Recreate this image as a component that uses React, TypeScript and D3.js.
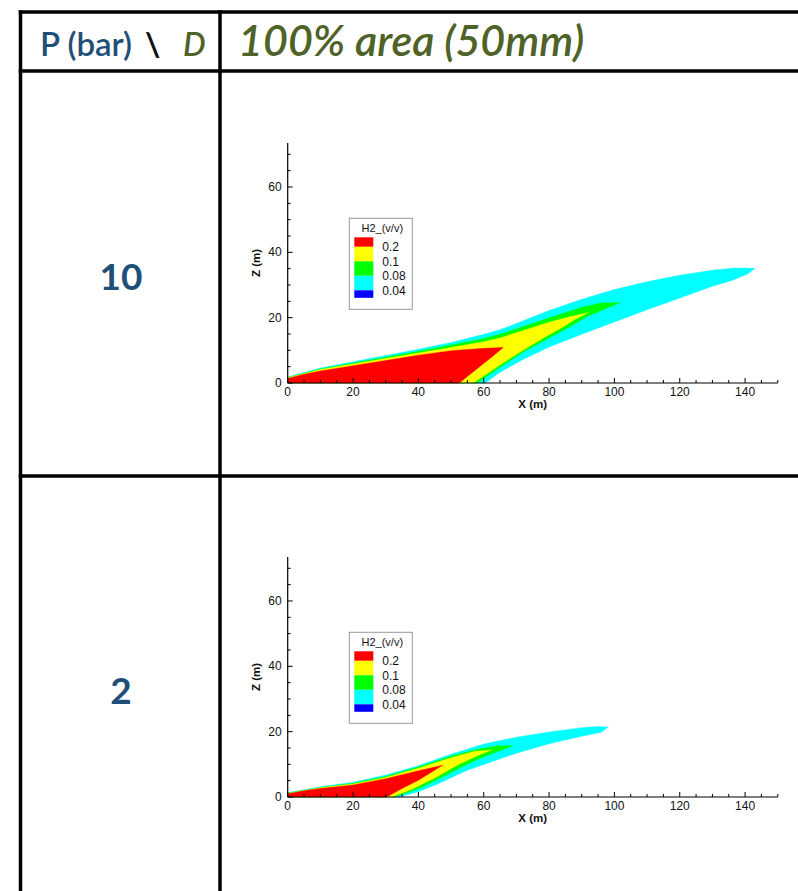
import React from 'react';
import * as d3 from 'd3';

type Pt = [number, number];

// Table text
const headerPressure = 'P (bar)';
const headerSlash = '\\';
const headerDiameter = 'D';
const columnTitle = '100% area (50mm)';
const rowLabels = ['10', '2'];

// Axis setup
const xDomain: [number, number] = [0, 150];
const zDomain: [number, number] = [0, 73.5];
const xMajorTicks = [0, 20, 40, 60, 80, 100, 120, 140];
const zMajorTicks = [0, 20, 40, 60];
const xTitle = 'X (m)';
const zTitle = 'Z (m)';

// Legend
const legendTitle = 'H2_(v/v)';
const legendLevels = ['0.2', '0.1', '0.08', '0.04'];
const legendColors = ['#ff0000', '#ffff00', '#00ff00', '#00ffff', '#0000ff'];

// Contour colours, outermost band first
const bandColors = ['#00ffff', '#00ff00', '#ffff00', '#ff0000'];

// P = 10 bar plume contours (x, z in metres)
const p10Cyan: Pt[] = [
  [0, 0], [0, 1.8], [10, 4.6], [20, 6.5], [30, 8.4], [40, 10.3], [50, 12.4], [60, 14.9],
  [65, 16.3], [70, 18.2], [80, 22.2], [90, 25.6], [100, 28.6], [110, 31], [120, 33],
  [130, 34.5], [137, 35.2], [143, 35.1], [141, 33.5], [136, 31.4], [130, 29.6], [120, 26],
  [110, 22.4], [100, 18.7], [90, 14.9], [80, 11], [72, 7.2], [65, 3.3], [60.5, 0],
];
const p10Green: Pt[] = [
  [0, 0], [0, 1.7], [10, 4.3], [20, 6.1], [30, 7.9], [40, 9.7], [50, 11.6], [60, 13.6],
  [65, 14.9], [70, 16.6], [80, 19.9], [90, 23.2], [96, 24.5], [101.7, 24.6], [98, 23],
  [92, 20.5], [86, 17], [80, 13.8], [72, 9.4], [65, 4.8], [58, 0],
];
const p10Yellow: Pt[] = [
  [0, 0], [0, 1.6], [10, 4.1], [20, 5.8], [30, 7.5], [40, 9.2], [50, 10.9], [60, 12.6],
  [65, 13.8], [70, 15.4], [80, 18.6], [86, 20.2], [92, 21.5], [88, 19.5], [84, 17],
  [80, 14.8], [72, 10], [66, 6.2], [62, 3.5], [56.8, 0],
];
const p10Red: Pt[] = [
  [0, 0], [0, 1.4], [5, 2.7], [10, 3.7], [20, 5.3], [30, 6.9], [40, 8.5], [50, 9.9],
  [60, 10.6], [66, 10.9], [62, 7.6], [57.5, 4], [52.5, 0],
];

// P = 2 bar plume contours (x, z in metres)
const p2Cyan: Pt[] = [
  [0, 0], [0, 1.3], [10, 3.1], [20, 4.5], [30, 6.7], [40, 9.6], [50, 13.1], [60, 16.2],
  [70, 18.3], [80, 19.9], [90, 21.2], [95, 21.6], [98.1, 21.4], [96, 19.8], [90, 18.6],
  [80, 16.3], [70, 13.4], [65, 11.7], [55, 8.2], [45, 3.6], [40, 1.6], [34, 0],
];
const p2Green: Pt[] = [
  [0, 0], [0, 1.2], [10, 2.9], [20, 4.2], [30, 6.3], [40, 9.2], [50, 12.5], [58, 14.6],
  [64, 15.6], [69, 15.7], [65, 14.2], [60, 12.3], [54, 9.6], [46, 5.4], [40, 2.5], [32.6, 0],
];
const p2Yellow: Pt[] = [
  [0, 0], [0, 1.1], [10, 2.8], [20, 4], [30, 6], [40, 8.8], [50, 12], [57, 13.9],
  [62.4, 14.4], [58, 12.6], [52, 9.8], [45, 5.8], [38, 2.4], [31.8, 0],
];
const p2Red: Pt[] = [
  [0, 0], [0, 1], [5, 1.9], [10, 2.6], [20, 3.7], [30, 5.6], [40, 8], [47.4, 9.7],
  [44, 7.6], [40, 5.1], [35, 2.6], [30.3, 0],
];

const panels = [
  { label: rowLabels[0], zeroY: 383, bands: [p10Cyan, p10Green, p10Yellow, p10Red] },
  { label: rowLabels[1], zeroY: 797, bands: [p2Cyan, p2Green, p2Yellow, p2Red] },
];

const PX_PER_M = 3.267;
const X0 = 287.7;
const plotFont = 'Liberation Sans, Arial, Helvetica, sans-serif';
const tableFont = 'Lato, "Open Sans", sans-serif';
const blue = '#1f4e79';
const olive = '#4f6228';

function ContourPanel({ zeroY, bands }: { zeroY: number; bands: Pt[][] }) {
  const x = d3.scaleLinear().domain(xDomain).range([X0, X0 + (xDomain[1] - xDomain[0]) * PX_PER_M]);
  const z = d3.scaleLinear().domain(zDomain).range([zeroY, zeroY - (zDomain[1] - zDomain[0]) * PX_PER_M]);
  const line = d3.line<Pt>().x((d) => x(d[0])).y((d) => z(d[1]));
  const xMinor = d3.range(0, xDomain[1] + 0.1, 5).filter((v) => !xMajorTicks.includes(v));
  const zMinor = d3.range(0, 71, 5).filter((v) => !zMajorTicks.includes(v));

  const lx = x(0) + 61.6;
  const ly = z(0) - 164.7;
  const bandEdges = [19, 28.5, 43, 57.5, 72, 79.5];

  return (
    <g>
      {bands.map((pts, i) => (
        <path key={i} d={line(pts) + 'Z'} fill={bandColors[i]} stroke={bandColors[i]} strokeWidth={0.4} />
      ))}
      {/* axes */}
      <line x1={x(0)} x2={x(xDomain[1])} y1={z(0)} y2={z(0)} stroke="#000" strokeWidth={1.2} />
      <line x1={x(0)} x2={x(0)} y1={z(0)} y2={z(zDomain[1])} stroke="#000" strokeWidth={1.2} />
      {xMajorTicks.map((t) => (
        <g key={'xm' + t}>
          <line x1={x(t)} x2={x(t)} y1={z(0)} y2={z(0) - 5} stroke="#000" strokeWidth={1} />
          <text x={x(t)} y={z(0) + 12.5} textAnchor="middle" fontSize={12} fontFamily={plotFont} fill="#111">{t}</text>
        </g>
      ))}
      {xMinor.map((t) => (
        <line key={'xn' + t} x1={x(t)} x2={x(t)} y1={z(0)} y2={z(0) - 3} stroke="#000" strokeWidth={1} />
      ))}
      {zMajorTicks.map((t) => (
        <g key={'zm' + t}>
          <line x1={x(0)} x2={x(0) + 5} y1={z(t)} y2={z(t)} stroke="#000" strokeWidth={1} />
          <text x={x(0) - 6} y={z(t) + 4} textAnchor="end" fontSize={12} fontFamily={plotFont} fill="#111">{t}</text>
        </g>
      ))}
      {zMinor.map((t) => (
        <line key={'zn' + t} x1={x(0)} x2={x(0) + 3} y1={z(t)} y2={z(t)} stroke="#000" strokeWidth={1} />
      ))}
      <text x={x(75)} y={z(0) + 25} textAnchor="middle" fontSize={11.5} fontWeight="bold" fontFamily={plotFont} fill="#111">{xTitle}</text>
      <text transform={`translate(${x(0) - 28},${z(36.75)}) rotate(-90)`} textAnchor="middle" fontSize={11.5} fontWeight="bold" fontFamily={plotFont} fill="#111">{zTitle}</text>
      {/* legend */}
      <rect x={lx} y={ly} width={63} height={91} fill="#fff" stroke="#999" strokeWidth={1} />
      <text x={lx + 33} y={ly + 14} textAnchor="middle" fontSize={11} fontFamily={plotFont} fill="#111">{legendTitle}</text>
      {legendColors.map((c, i) => (
        <rect key={c} x={lx + 5} y={ly + bandEdges[i]} width={19} height={bandEdges[i + 1] - bandEdges[i]} fill={c} />
      ))}
      {legendLevels.map((v, i) => (
        <text key={v} x={lx + 33} y={ly + bandEdges[i + 1] + 4.5} fontSize={12} fontFamily={plotFont} fill="#111">{v}</text>
      ))}
    </g>
  );
}

export default function App() {
  return (
    <svg width={798} height={891} style={{ position: 'absolute', left: 0, top: 0, background: '#fff' }}>
      <rect width={798} height={891} fill="#fff" />
      {/* table grid */}
      <g stroke="#000" strokeWidth={3.5}>
        <line x1={18.75} x2={798} y1={12} y2={12} />
        <line x1={18.75} x2={798} y1={71} y2={71} />
        <line x1={18.75} x2={798} y1={476} y2={476} />
        <line x1={20.5} x2={20.5} y1={10.25} y2={891} />
        <line x1={220} x2={220} y1={10.25} y2={891} />
      </g>
      {/* header */}
      <text x={40} y={56} fontSize={33} fontWeight={600} fontFamily={tableFont} fill={blue}>{headerPressure}</text>
      <text x={145} y={56} fontSize={33} fontWeight={700} fontFamily={tableFont} fill="#111">{headerSlash}</text>
      <text x={183} y={56} fontSize={32} fontWeight={600} fontStyle="italic" fontFamily={tableFont} fill={olive}>{headerDiameter}</text>
      <text x={238} y={56} fontSize={43} fontWeight={600} fontStyle="italic" fontFamily={tableFont} fill={olive}>{columnTitle}</text>
      {panels.map((p) => (
        <g key={p.label}>
          <text x={121} y={p.zeroY - 93} textAnchor="middle" fontSize={37} fontWeight="bold" fontFamily={tableFont} fill={blue}>{p.label}</text>
          <ContourPanel zeroY={p.zeroY} bands={p.bands} />
        </g>
      ))}
    </svg>
  );
}
